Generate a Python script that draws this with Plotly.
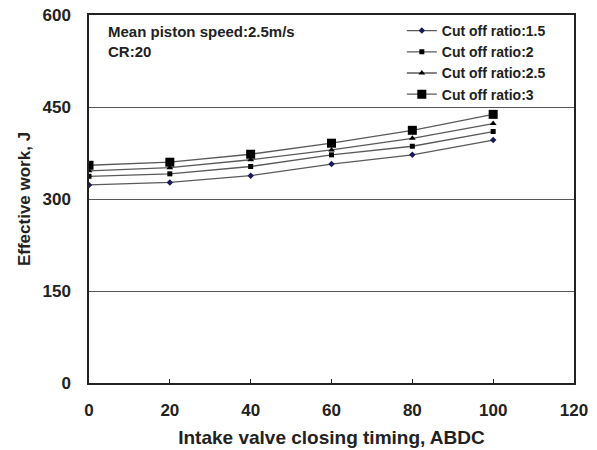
import plotly.graph_objects as go

x_vals = [0, 20, 40, 60, 80, 100]
cr15 = [323, 327, 338, 357, 372, 396]
cr2 = [337, 341, 353, 372, 386, 410]
cr25 = [346, 351, 364, 380, 399, 423]
cr3 = [355, 360, 373, 391, 412, 438]
names = ["Cut off ratio:1.5", "Cut off ratio:2", "Cut off ratio:2.5", "Cut off ratio:3"]
series = [cr15, cr2, cr25, cr3]
symbols = ["diamond", "square", "triangle-up", "square"]
sizes = [5, 5, 6, 9]
mcolors = ["#1a1a5a", "black", "black", "black"]

fig = go.Figure()
for n, s, sym, sz, mc in zip(names, series, symbols, sizes, mcolors):
    fig.add_trace(go.Scatter(x=x_vals, y=s, name=n, mode="lines+markers",
                             line=dict(color="#5a5a5a", width=1.3),
                             marker=dict(symbol=sym, size=sz, color=mc)))

font_b = "Liberation Sans"
fig.update_layout(
    width=597, height=450,
    margin=dict(l=89, r=23, t=15, b=67),
    paper_bgcolor="white", plot_bgcolor="white",
    font=dict(family=font_b, color="black"),
    showlegend=True,
    legend=dict(x=0.645, y=1.0, xanchor="left", yanchor="top",
                font=dict(size=14, family=font_b, weight="bold", color="#222222"),
                bgcolor="rgba(0,0,0,0)", itemwidth=30),
    xaxis=dict(range=[0, 120], tickvals=[0, 20, 40, 60, 80, 100, 120],
               automargin=False,
               showgrid=False, zeroline=False, showline=True, mirror=True,
               linecolor="#222222", linewidth=1.5, ticks="inside", ticklen=4,
               tickcolor="#222222", ticklabelstandoff=11,
               tickfont=dict(size=17, family=font_b, weight="bold", color="#222222"),
               title=dict(text="Intake valve closing timing, ABDC", standoff=12,
                          font=dict(size=19, family=font_b, weight="bold", color="#222222"))),
    yaxis=dict(range=[0, 600], tickvals=[0, 150, 300, 450, 600],
               automargin=False,
               showgrid=True, gridcolor="#555555", gridwidth=1,
               zeroline=False, showline=True, mirror=True,
               linecolor="#222222", linewidth=1.5, ticks="",
               ticklabelstandoff=13,
               tickfont=dict(size=17, family=font_b, weight="bold", color="#222222"),
               title=dict(text="Effective work, J", standoff=8,
                          font=dict(size=17, family=font_b, weight="bold", color="#222222"))),
    annotations=[
        dict(text="Mean piston speed:2.5m/s<br>CR:20", xref="paper", yref="paper",
             x=0.035, y=0.985, xanchor="left", yanchor="top", showarrow=False, align="left",
             font=dict(size=15, family=font_b, weight="bold", color="#222222"))
    ],
)
fig.write_html("out.html")
